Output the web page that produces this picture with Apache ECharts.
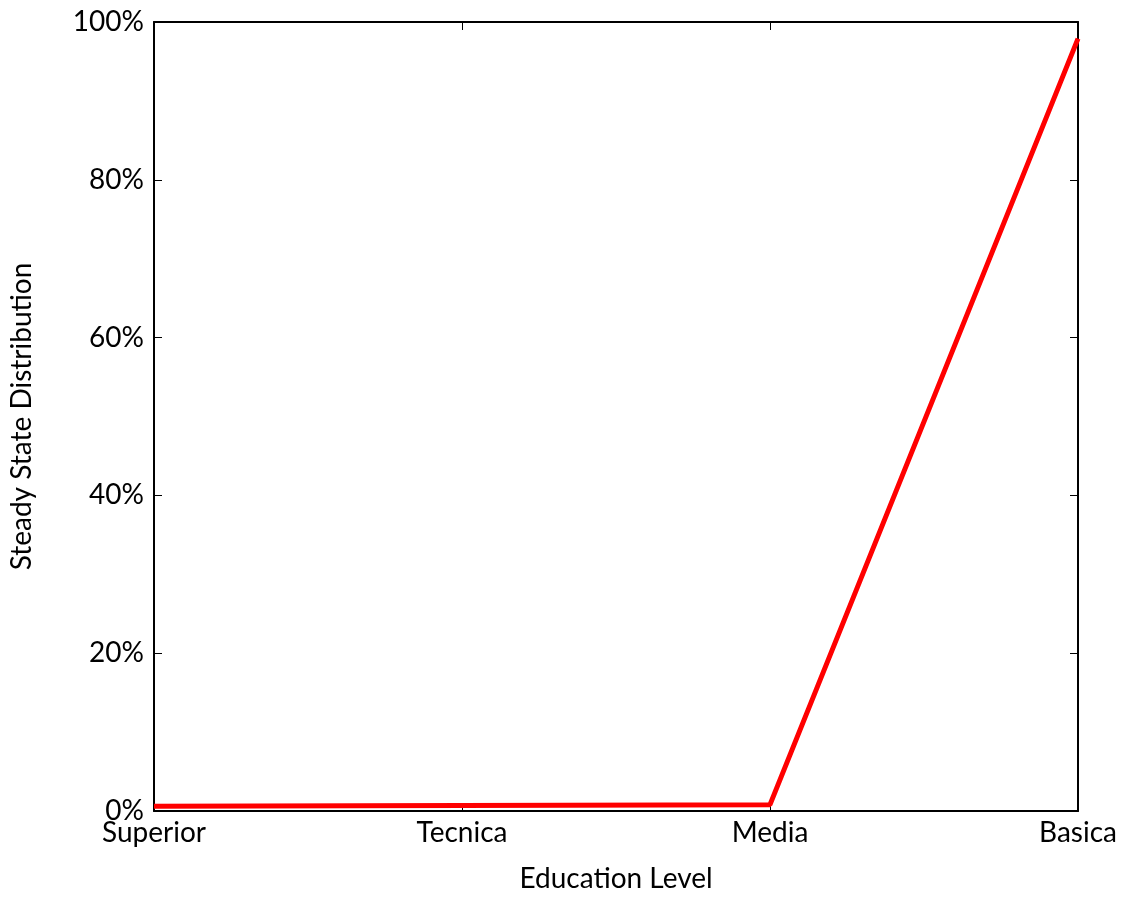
<!DOCTYPE html>
<html>
<head>
<meta charset="utf-8">
<script src="https://cdn.jsdelivr.net/npm/echarts@6/dist/echarts.min.js"></script>
<style>
  html, body { margin: 0; padding: 0; background: #fff; }
  #chart { width: 1129px; height: 899px; }
</style>
</head>
<body>
<div id="chart"></div>
<script>
// Education levels along the x axis
const categories = ['Superior', 'Tecnica', 'Media', 'Basica'];
// Steady state share per level, in percent
const steadyState = [0.6, 0.7, 0.8, 97.9];
// Y-axis ticks, in percent
const yTicks = [0, 20, 40, 60, 80, 100];

const FONT = 'Lato, "DejaVu Sans", sans-serif';
const FS = 28;
const chart = echarts.init(document.getElementById('chart'));

const tickStyle = { show: true, inside: true, length: 8, lineStyle: { color: '#000', width: 1 } };
const lineStyle = { show: true, onZero: false, lineStyle: { color: '#000', width: 2 } };

chart.setOption({
  animation: false,
  grid: { left: 154, right: 51, top: 22, bottom: 88, containLabel: false, outerBoundsMode: 'none' },
  xAxis: [
    {
      type: 'category',
      data: categories,
      boundaryGap: false,
      name: 'Education Level',
      nameLocation: 'middle',
      nameGap: 54,
      nameTextStyle: { fontFamily: FONT, fontSize: FS, color: '#000' },
      axisLine: lineStyle,
      axisTick: Object.assign({ alignWithLabel: true }, tickStyle),
      axisLabel: { fontFamily: FONT, fontSize: FS, color: '#000', margin: 8, interval: 0 },
      splitLine: { show: false }
    },
    {
      type: 'category',
      data: categories,
      boundaryGap: false,
      position: 'top',
      axisLine: lineStyle,
      axisTick: Object.assign({ alignWithLabel: true }, tickStyle),
      axisLabel: { show: false },
      splitLine: { show: false }
    }
  ],
  yAxis: [
    {
      type: 'value',
      min: yTicks[0],
      max: yTicks[yTicks.length - 1],
      interval: yTicks[1] - yTicks[0],
      name: 'Steady State Distribution',
      nameLocation: 'middle',
      nameGap: 118,
      nameTextStyle: { fontFamily: FONT, fontSize: FS, color: '#000' },
      axisLine: lineStyle,
      axisTick: tickStyle,
      axisLabel: { fontFamily: FONT, fontSize: FS, color: '#000', margin: 10, formatter: v => v + '%' },
      splitLine: { show: false }
    },
    {
      type: 'value',
      min: yTicks[0],
      max: yTicks[yTicks.length - 1],
      interval: yTicks[1] - yTicks[0],
      position: 'right',
      axisLine: lineStyle,
      axisTick: tickStyle,
      axisLabel: { show: false },
      splitLine: { show: false }
    }
  ],
  series: [
    {
      type: 'line',
      data: steadyState,
      xAxisIndex: 0,
      yAxisIndex: 0,
      symbol: 'none',
      lineStyle: { color: '#ff0000', width: 5 },
      z: 1
    }
  ]
});
</script>
</body>
</html>
